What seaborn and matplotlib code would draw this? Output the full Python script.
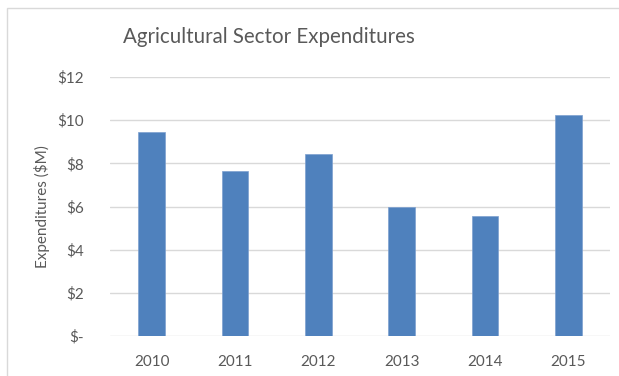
import matplotlib
matplotlib.use("Agg")
import matplotlib.pyplot as plt
import seaborn as sns
import pandas as pd
from matplotlib.patches import Rectangle
from matplotlib.ticker import FuncFormatter

years = ["2010", "2011", "2012", "2013", "2014", "2015"]
expenditures = [9.45, 7.65, 8.43, 5.97, 5.58, 10.23]
y_ticks = [0, 2, 4, 6, 8, 10, 12]

df = pd.DataFrame({"Year": years, "Expenditures": expenditures})

sns.set_theme(style="white")
plt.rcParams["font.family"] = ["Lato", "DejaVu Sans"]

W, H = 619, 376
fig = plt.figure(figsize=(W / 100, H / 100), dpi=100)
fig.patch.set_facecolor("white")

# light chart-area frame
fig.add_artist(Rectangle((7 / W, -0.1), 1.2, (H - 8) / H + 0.1,
                         transform=fig.transFigure, fill=False,
                         edgecolor="#d9d9d9", linewidth=1))

ax = fig.add_axes([110 / W, 1 - 336 / H, 500 / W, (336 - 77) / H])
sns.barplot(data=df, x="Year", y="Expenditures", color="#4f81bd",
            saturation=1, width=0.32, ax=ax, edgecolor="#7da0cf", linewidth=0.5)

ax.set_ylim(0, 12)
ax.set_xlim(-0.5, 5.5)
ax.set_yticks(y_ticks)
ax.yaxis.set_major_formatter(FuncFormatter(lambda v, p: "$-" if v == 0 else f"${int(v)}"))
ax.grid(axis="y", color="#d9d9d9", linewidth=1)
ax.set_axisbelow(True)
for s in ax.spines.values():
    s.set_visible(False)
ax.tick_params(axis="both", length=0, labelsize=11, labelcolor="#595959")
ax.tick_params(axis="y", pad=19)
ax.tick_params(axis="x", pad=14)
ax.set_xlabel("")
ax.set_ylabel("Expenditures ($M)", fontsize=11, color="#595959")
ax.yaxis.set_label_coords((50 - 110) / 500, 0.5)

fig.text(269 / W, 1 - 37 / H, "Agricultural Sector Expenditures",
         ha="center", va="center", fontsize=14.8, color="#595959")

fig.savefig("out.png", dpi=100)
